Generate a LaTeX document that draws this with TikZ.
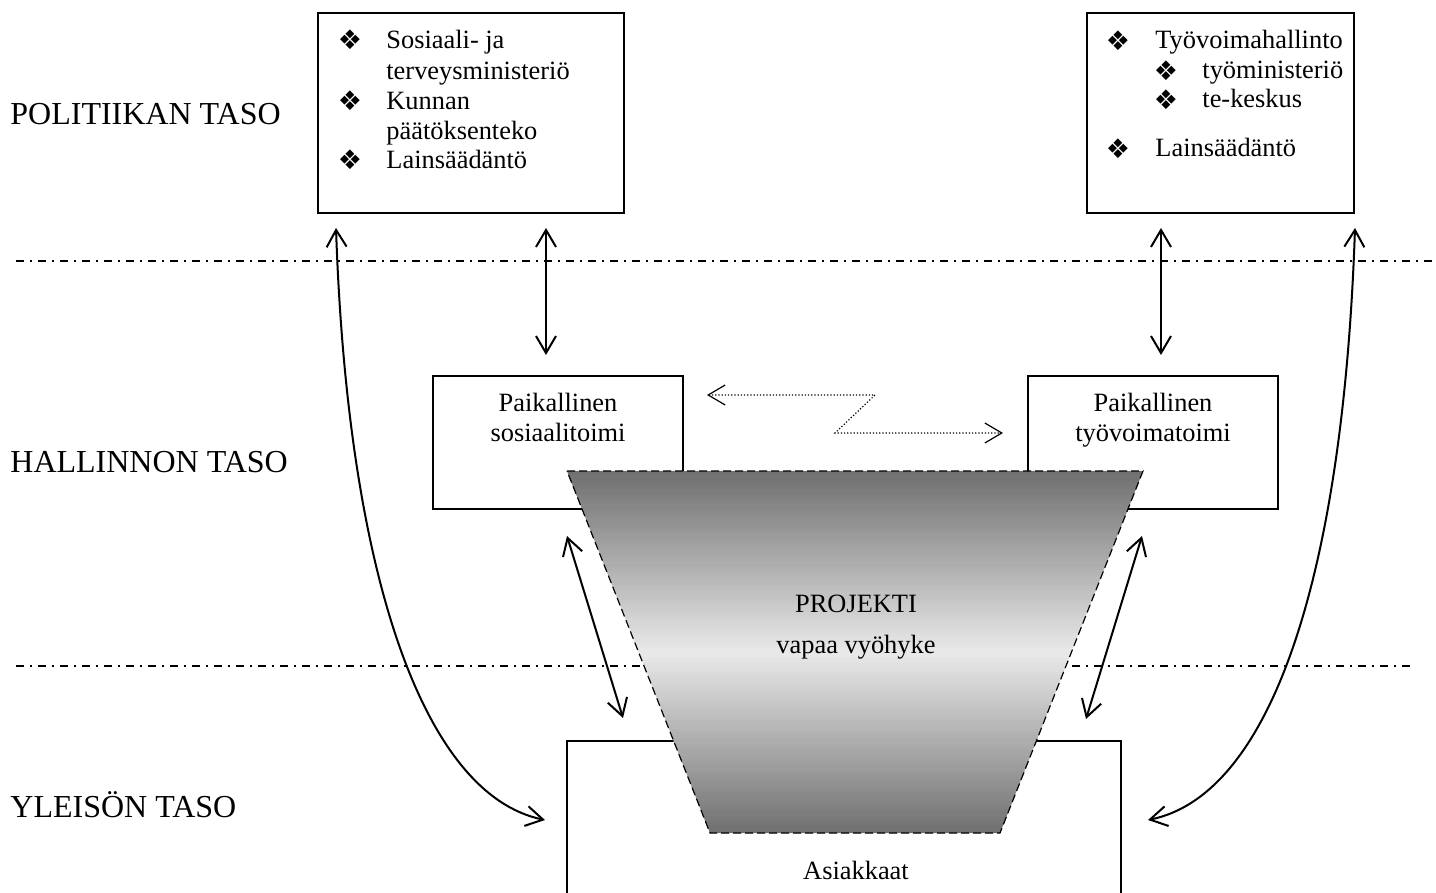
\documentclass[tikz,border=0pt]{standalone}
\usepackage{fontspec}
\setmainfont{Liberation Serif}
\newfontfamily\dingfont{DejaVu Sans}
\usetikzlibrary{arrows.meta}

\tikzset{
  box/.style={draw, line width=0.8pt, fill=white, inner sep=0pt},
  level/.style={font=\fontsize{16}{19}\selectfont, anchor=base west, inner sep=0pt},
  txt/.style={font=\fontsize{13.2}{15.5}\selectfont, anchor=base west, inner sep=0pt},
  ctxt/.style={font=\fontsize{13.2}{15.5}\selectfont, anchor=base, inner sep=0pt},
  bul/.style={font=\dingfont\fontsize{13.5}{13.5}\selectfont, inner sep=0pt},
  sep/.style={line width=0.7pt, dash pattern=on 4pt off 2.75pt on 1pt off 3.25pt},
  barb/.tip={Straight Barb[length=8.5pt,width=10pt]},
  link/.style={line width=1pt, barb-barb},
  dotlink/.style={line width=0.6pt, dash pattern=on 0.6pt off 1pt, barb-barb},
  zone/.style={draw, line width=0.6pt, dash pattern=on 4pt off 2pt}
}

\begin{document}
\begin{tikzpicture}[x=0.5pt, y=-0.5pt]
\useasboundingbox (0,0) rectangle (1436,893);
\clip (0,0) rectangle (1436,893);

% level separators
\draw[sep] (16,261) -- (1436,261);
\draw[sep] (16,666) -- (1415,666);

% level labels
\node[level] (lvl1) at (10,125) {POLITIIKAN TASO};
\node[level] (lvl2) at (10,473) {HALLINNON TASO};
\node[level] (lvl3) at (10,817) {YLEISÖN TASO};

% policy level boxes
\node[box, minimum width=153pt, minimum height=100pt] (tl) at (471,113) {};
\node[box, minimum width=133.5pt, minimum height=100pt] (tr) at (1220.5,113) {};

\node[bul] (tlb1) at (350,40) {❖};
\node[txt] (tlt1) at (386,49) {Sosiaali- ja};
\node[txt] (tlt2) at (386,80) {terveysministeriö};
\node[bul] (tlb2) at (350,101) {❖};
\node[txt] (tlt3) at (386,110) {Kunnan};
\node[txt] (tlt4) at (386,140) {päätöksenteko};
\node[bul] (tlb3) at (350,160) {❖};
\node[txt] (tlt5) at (386,169) {Lainsäädäntö};

\node[bul] (trb1) at (1118,41) {❖};
\node[txt] (trt1) at (1155,49) {Työvoimahallinto};
\node[bul] (trb2) at (1166,71) {❖};
\node[txt] (trt2) at (1202,79) {työministeriö};
\node[bul] (trb3) at (1166,100) {❖};
\node[txt] (trt3) at (1202,108) {te-keskus};
\node[bul] (trb4) at (1118,149) {❖};
\node[txt] (trt4) at (1155,157) {Lainsäädäntö};

% administration level boxes
\node[box, minimum width=125pt, minimum height=66.5pt] (ls) at (558,442.5) {};
\node[ctxt] (lst1) at (558,411) {Paikallinen};
\node[ctxt] (lst2) at (558,442) {sosiaalitoimi};
\node[box, minimum width=125pt, minimum height=66.5pt] (lw) at (1153,442.5) {};
\node[ctxt] (lwt1) at (1153,411) {Paikallinen};
\node[ctxt] (lwt2) at (1153,442) {työvoimatoimi};

% public level box, open towards the bottom
\node[box, minimum width=277pt, minimum height=129.5pt] (as) at (844,870.5) {};

% project zone: grey band, dark at the rims and light in the middle
\coordinate (z1) at (567,471);
\coordinate (z2) at (1143,471);
\coordinate (z3) at (1000,833);
\coordinate (z4) at (710,833);
\begin{scope}
  \clip (z1) -- (z2) -- (z3) -- (z4) -- cycle;
  \foreach \i in {0,...,120} {
    \pgfmathsetmacro{\ya}{471 + \i*3}
    \pgfmathsetmacro{\t}{(\i+0.5)/121}
    \pgfmathtruncatemacro{\p}{57 - 48*(1 - abs(2*\t - 1))}
    \fill[black!\p] (560,\ya) rectangle (1150,\ya+4);
  }
\end{scope}
\draw[zone] (z1) -- (z2) -- (z3) -- (z4) -- cycle;
\node[ctxt] (proj) at (856,612) {PROJEKTI};
\node[ctxt] (free) at (856,653) {vapaa vyöhyke};
\node[ctxt] (cust) at (856,879) {Asiakkaat};

% connector end points
\coordinate (a1) at (546,228);
\coordinate (a2) at (546,355);
\coordinate (b1) at (1161,228);
\coordinate (b2) at (1161,355);
\coordinate (c1) at (567,536);
\coordinate (c2) at (623,718);
\coordinate (d1) at (1142,536);
\coordinate (d2) at (1086,719);
\coordinate (e1) at (336,228);
\coordinate (e2) at (545,820);
\coordinate (f1) at (1355,228);
\coordinate (f2) at (1148,820);
\coordinate (g1) at (707,395);
\coordinate (g2) at (875,395);
\coordinate (g3) at (835,433);
\coordinate (g4) at (1003,433);

% connectors
\draw[link] (a1) -- (a2);
\draw[link] (b1) -- (b2);
\draw[link] (c1) -- (c2);
\draw[link] (d1) -- (d2);
\draw[link] (e1) .. controls (348,580) and (425,795) .. (e2);
\draw[link] (f1) .. controls (1343,580) and (1270,795) .. (f2);
\draw[dotlink] (g1) -- (g2) -- (g3) -- (g4);
\end{tikzpicture}
\end{document}
